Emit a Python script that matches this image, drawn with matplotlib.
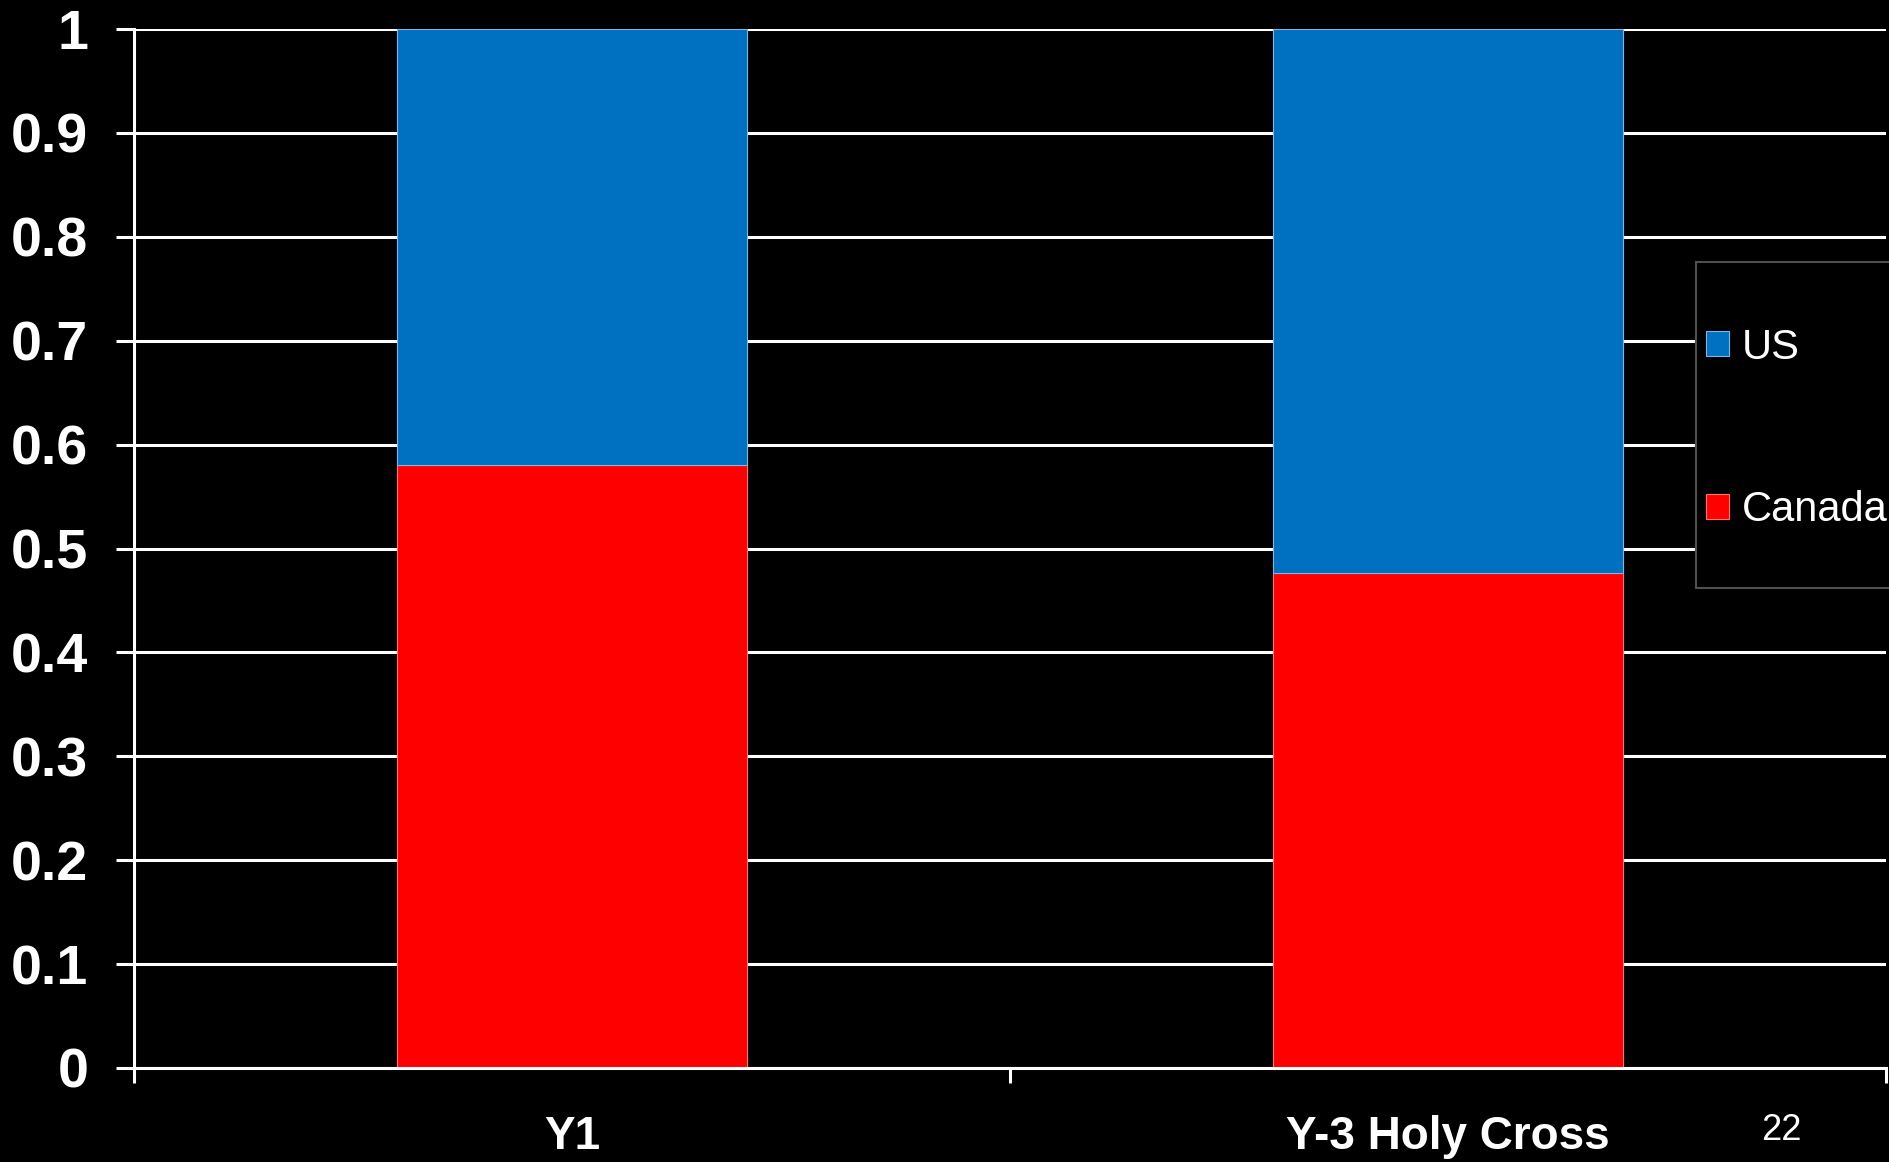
import matplotlib
matplotlib.use("Agg")
import matplotlib.pyplot as plt
from matplotlib import font_manager
from matplotlib.patches import Rectangle

categories = ["Y1", "Y-3 Holy Cross"]
canada = [0.58, 0.476]
us = [0.42, 0.524]
series_names = ["US", "Canada"]
y_ticks = [0, 0.1, 0.2, 0.3, 0.4, 0.5, 0.6, 0.7, 0.8, 0.9, 1]
y_tick_labels = ["0", "0.1", "0.2", "0.3", "0.4", "0.5", "0.6", "0.7", "0.8", "0.9", "1"]
slide_number = "22"

BLUE = "#0070C0"
RED = "#FF0000"

names = {f.name for f in font_manager.fontManager.ttflist}
narrow = "Liberation Sans Narrow" if "Liberation Sans Narrow" in names else "Liberation Sans"
narrow_size = 38 if narrow == "Liberation Sans Narrow" else 33

W, H = 1890, 1162
fig = plt.figure(figsize=(W / 100, H / 100), dpi=100, facecolor="black")
ax = fig.add_axes([134 / W, (H - 1068) / H, (1886 - 134) / W, (1068 - 29) / H])
ax.set_facecolor("black")

x = range(len(categories))
ax.bar(x, canada, width=0.40, color=RED, edgecolor="#FF7070", linewidth=0.8, zorder=3, label="Canada")
ax.bar(x, us, width=0.40, bottom=canada, color=BLUE, edgecolor="#7FB6E6", linewidth=0.8, zorder=3, label="US")

ax.set_xlim(-0.5, len(categories) - 0.5)
ax.set_ylim(0, 1)

ax.set_yticks(y_ticks)
ax.set_yticklabels(y_tick_labels, fontfamily="Liberation Sans", fontweight="bold", fontsize=40, color="white")
ax.tick_params(axis="y", direction="out", length=13, width=2.2, color="white", pad=20)
ax.yaxis.grid(True, color="white", linewidth=2.2, zorder=0)
ax.set_axisbelow(True)

# category boundaries carry the tick marks, names sit in between
ax.set_xticks([i - 0.5 for i in range(len(categories) + 1)])
ax.set_xticklabels([])
ax.set_xticks(list(x), minor=True)
ax.set_xticklabels(categories, minor=True, fontfamily=narrow, fontweight="bold",
                   fontsize=narrow_size, color="white")
ax.tick_params(axis="x", which="major", direction="out", length=11, width=2.2, color="white")
ax.tick_params(axis="x", which="minor", length=0, pad=34)

for side in ["top", "right"]:
    ax.spines[side].set_visible(False)
for side in ["left", "bottom"]:
    ax.spines[side].set_color("white")
    ax.spines[side].set_linewidth(2.2)
    ax.spines[side].set_zorder(4)

# legend box runs off the right edge of the slide
fig.patches.append(Rectangle((1696 / W, 1 - 588 / H), 300 / W, (588 - 262) / H,
                             transform=fig.transFigure, facecolor="black",
                             edgecolor="#505050", linewidth=1.5, zorder=5))
handles, labels = ax.get_legend_handles_labels()
order = [labels.index(n) for n in series_names]
leg = fig.legend([handles[i] for i in order], [labels[i] for i in order],
                 loc="center left", bbox_to_anchor=(1706 / W, 1 - 429 / H),
                 frameon=False, borderpad=0, borderaxespad=0,
                 prop={"family": "Liberation Sans", "size": 30},
                 labelcolor="white", handlelength=0.55, handleheight=0.55,
                 handletextpad=0.3, labelspacing=2.95)
leg.set_zorder(6)

fig.text(1781 / W, 1 - 1131 / H, slide_number, fontfamily="Liberation Sans", fontsize=26,
         color="white", ha="center", va="center")

fig.savefig("out.png", dpi=100, facecolor="black")
